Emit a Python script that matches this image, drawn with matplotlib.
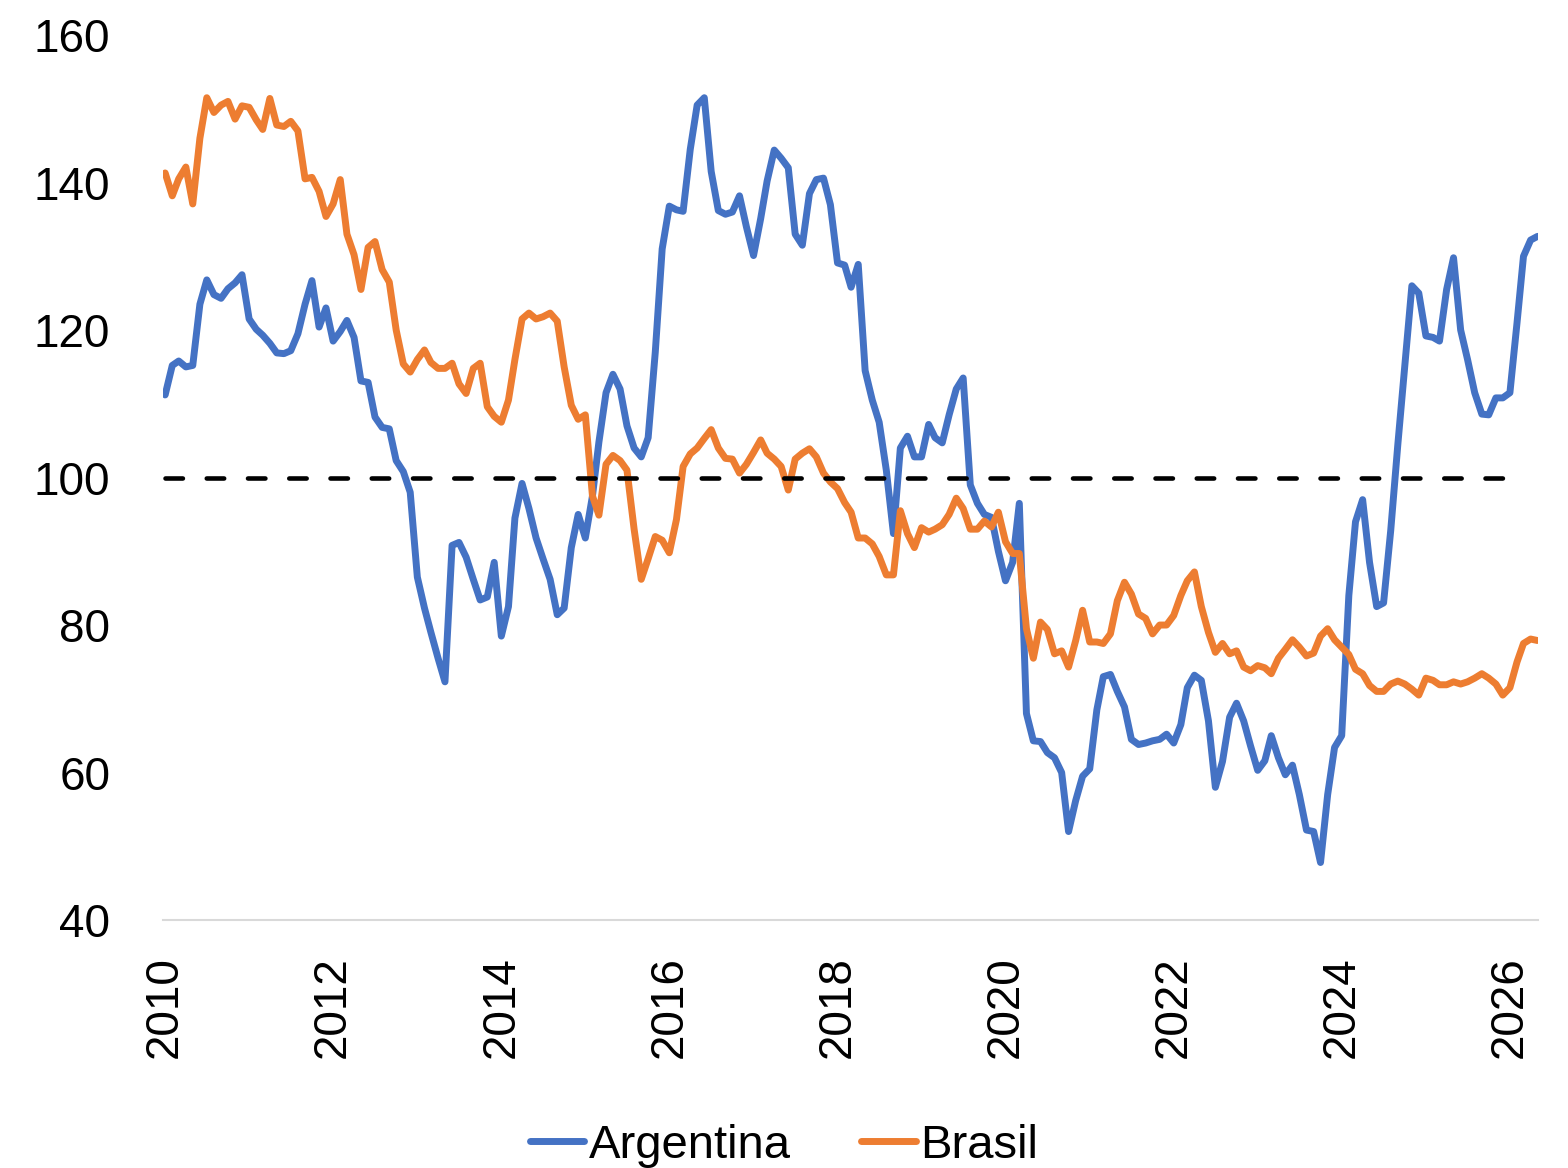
import matplotlib
matplotlib.use("Agg")
import matplotlib.pyplot as plt
import numpy as np
import pandas as pd

plt.rcParams['font.family'] = ['Liberation Sans', 'DejaVu Sans']

# monthly index values, Jan 2010 onwards
argentina = [
    111.2, 115.2, 115.8, 115.0, 115.2, 123.5, 126.8, 124.8, 124.3, 125.6,
    126.4, 127.5, 121.5, 120.1, 119.3, 118.2, 116.9, 116.8, 117.2, 119.5,
    123.5, 126.7, 120.4, 123.0, 118.5, 119.8, 121.3, 119.0, 113.1, 112.9,
    108.2, 106.8, 106.6, 102.3, 100.8, 98.0, 86.5, 82.3, 79.0, 75.5,
    72.3, 90.8, 91.2, 89.2, 86.2, 83.4, 83.8, 88.5, 78.5, 82.5,
    94.5, 99.2, 95.8, 91.8, 89.0, 86.2, 81.4, 82.3, 90.5, 95.0,
    91.8, 97.5, 104.8, 111.5, 114.0, 112.0, 107.0, 104.0, 102.8, 105.4,
    117.0, 131.0, 136.8, 136.3, 136.1, 144.5, 150.5, 151.5, 141.5, 136.2,
    135.7, 136.0, 138.2, 134.0, 130.1, 135.1, 140.2, 144.4, 143.3, 142.0,
    133.0, 131.5, 138.5, 140.4, 140.6, 137.0, 129.1, 128.8, 125.8, 128.9,
    114.5, 110.5, 107.5, 101.0, 92.4, 104.0, 105.6, 102.8, 102.8, 107.2,
    105.4, 104.7, 108.5, 112.0, 113.5, 99.0, 96.5, 95.0, 94.6, 90.0,
    86.0, 88.5, 96.5, 68.0, 64.3, 64.2, 62.7, 62.0, 60.0, 52.0,
    56.2, 59.5, 60.5, 68.5, 73.0, 73.3, 71.0, 68.9, 64.5, 63.8,
    64.0, 64.3, 64.5, 65.2, 64.0, 66.5, 71.5, 73.2, 72.5, 67.0,
    58.0, 61.5, 67.5, 69.4, 67.0, 63.6, 60.3, 61.6, 65.0, 62.0,
    59.7, 61.0, 57.0, 52.2, 52.0, 47.8, 57.0, 63.4, 65.0, 84.0,
    94.0, 97.0, 88.5, 82.5, 83.0, 92.8, 104.5, 115.0, 126.0, 125.0,
    119.2, 119.0, 118.5, 125.5, 129.8, 120.0, 116.0, 111.5, 108.6, 108.5,
    110.8, 110.8, 111.5, 121.0, 130.0, 132.2, 132.7,
]
brasil = [
    141.3, 138.2, 140.5, 142.1, 137.1, 146.0, 151.5, 149.5, 150.5, 151.0,
    148.6, 150.4, 150.2, 148.5, 147.2, 151.4, 147.8, 147.6, 148.3, 147.0,
    140.5, 140.7, 138.8, 135.4, 137.1, 140.4, 133.0, 130.2, 125.5, 131.2,
    132.0, 128.2, 126.5, 120.0, 115.4, 114.3, 116.0, 117.3, 115.6, 114.8,
    114.8, 115.5, 112.7, 111.4, 114.8, 115.5, 109.6, 108.3, 107.5, 110.5,
    116.0, 121.5, 122.3, 121.5, 121.8, 122.3, 121.2, 115.0, 109.8, 107.9,
    108.5, 97.5, 94.9, 101.8, 103.0, 102.3, 101.0, 93.0, 86.2, 89.0,
    92.0, 91.5, 89.8, 94.3, 101.5, 103.2, 104.0, 105.3, 106.5, 104.0,
    102.6, 102.5, 100.6, 101.8, 103.4, 105.1, 103.3, 102.5, 101.5, 98.3,
    102.5, 103.3, 103.9, 102.8, 100.6, 99.4, 98.5, 96.6, 95.3, 91.8,
    91.8, 91.0, 89.3, 86.8, 86.8, 95.5, 92.4, 90.5, 93.2, 92.6,
    93.0, 93.6, 95.0, 97.2, 95.8, 93.0, 93.0, 94.1, 93.3, 95.3,
    91.3, 89.7, 89.7, 79.5, 75.5, 80.4, 79.4, 76.1, 76.5, 74.3,
    77.9, 82.0, 77.7, 77.7, 77.5, 78.8, 83.3, 85.8, 84.2, 81.5,
    80.9, 78.8, 80.0, 80.0, 81.3, 84.0, 86.0, 87.2, 82.5, 79.0,
    76.3, 77.5, 76.1, 76.5, 74.3, 73.8, 74.5, 74.2, 73.4, 75.5,
    76.7, 78.0, 77.0, 75.8, 76.2, 78.5, 79.5, 78.0, 77.0, 76.0,
    74.0, 73.4, 71.8, 71.0, 71.0, 72.0, 72.4, 72.0, 71.3, 70.5,
    72.8, 72.5, 71.9, 71.9, 72.3, 72.0, 72.3, 72.8, 73.4, 72.8,
    72.0, 70.5, 71.5, 75.0, 77.5, 78.1, 77.9,
]
dates = pd.date_range("2010-01-01", periods=len(argentina), freq="MS")
ref_level = 100
ref_end = pd.Timestamp("2026-02-01")
year_ticks = list(range(2010, 2027, 2))

fig = plt.figure(figsize=(15.68, 11.68), dpi=100)
ax = fig.add_axes([0.104, 0.2123, 0.877, 0.7577])

ax.plot(dates, argentina, color="#4472C4", lw=5, solid_joinstyle="round",
        solid_capstyle="round", label="Argentina")
ax.plot(dates, brasil, color="#ED7D31", lw=5, solid_joinstyle="round",
        solid_capstyle="round", label="Brasil")
ax.plot([dates[0], ref_end], [ref_level, ref_level], color="black", lw=3.3,
        dashes=(3.8, 5.2), dash_capstyle="round")

ax.set_ylim(40, 160)
ax.set_yticks(range(40, 161, 20))
ax.set_xlim(dates[0] - pd.Timedelta(days=9), dates[-1] + pd.Timedelta(days=3))
ax.set_xticks([pd.Timestamp(f"{y}-01-01") for y in year_ticks])
ax.set_xticklabels([str(y) for y in year_ticks], rotation=90)

for s in ["top", "right", "left"]:
    ax.spines[s].set_visible(False)
ax.spines["bottom"].set_color("#D9D9D9")
ax.spines["bottom"].set_linewidth(1.5)
ax.tick_params(axis="both", length=0, labelsize=33)
ax.tick_params(axis="y", pad=38)
ax.tick_params(axis="x", pad=26)

fig.legend(loc="center", bbox_to_anchor=(0.5, 0.019), ncol=2, frameon=False,
           fontsize=34, handlelength=1.15, handletextpad=0.1, columnspacing=1.5,
           borderpad=0)

fig.savefig("out.png", dpi=100)
